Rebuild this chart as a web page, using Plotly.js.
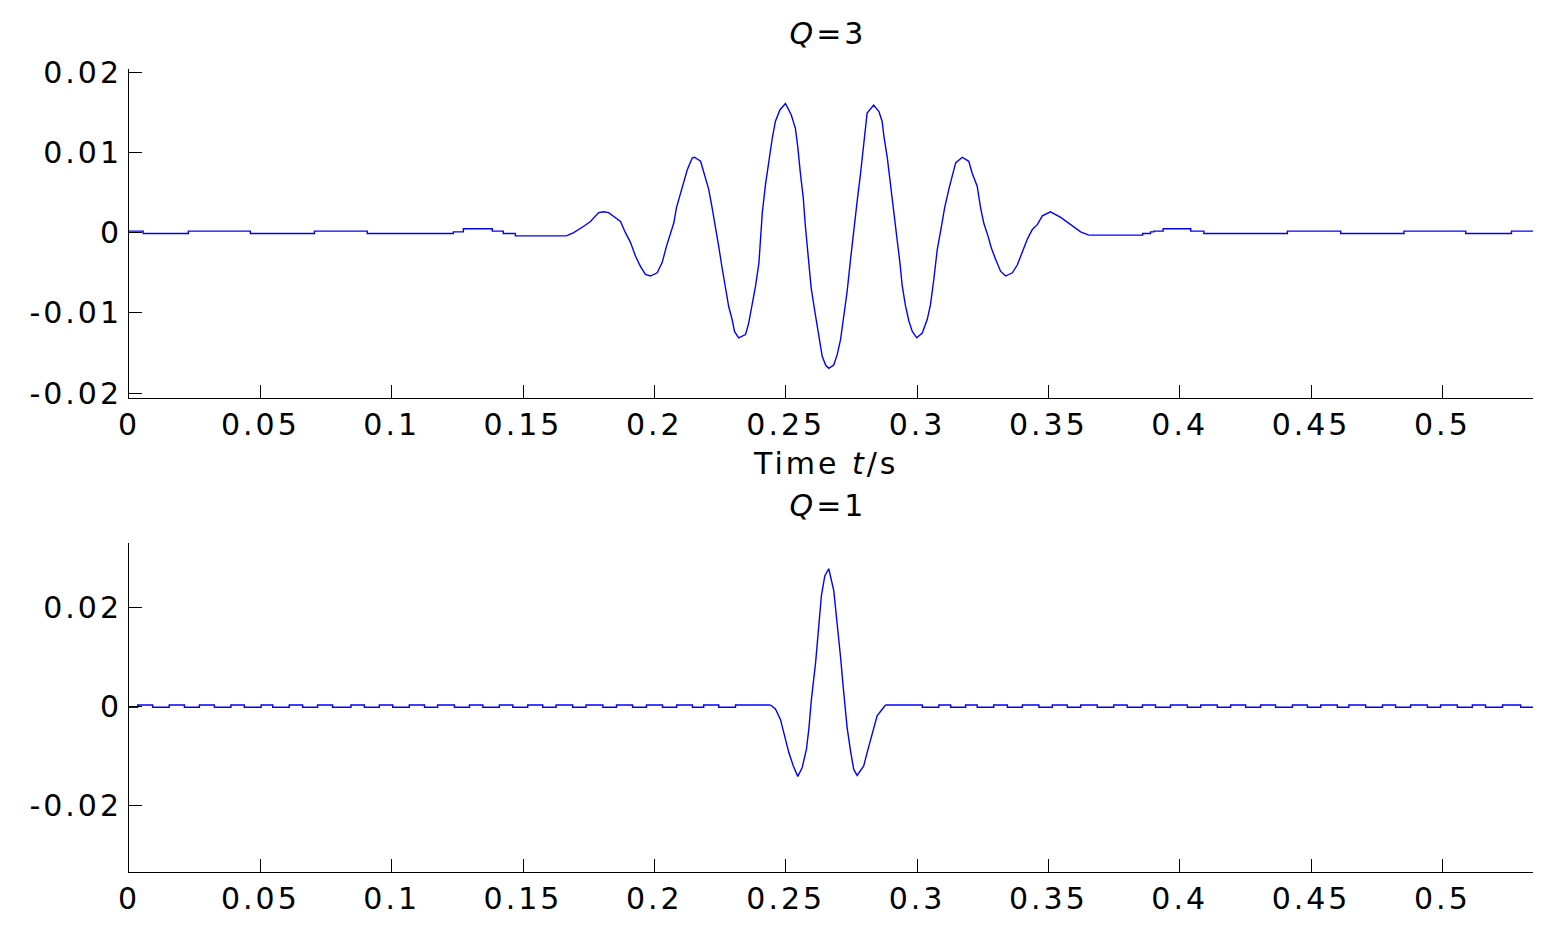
<!DOCTYPE html>
<html>
<head>
<meta charset="utf-8">
<script src="https://cdn.plot.ly/plotly-3.0.1.min.js"></script>
<style>
html,body{margin:0;padding:0;background:#fff;}
#chart{width:1558px;height:928px;}
#chart text{letter-spacing:3px;}
</style>
</head>
<body>
<div id="chart"></div>
<script>
// ---------- data ----------
const xTickVals = [0, 0.05, 0.1, 0.15, 0.2, 0.25, 0.3, 0.35, 0.4, 0.45, 0.5];
const xTickText = ['0', '0.05', '0.1', '0.15', '0.2', '0.25', '0.3', '0.35', '0.4', '0.45', '0.5'];
const yTopTickVals = [-0.02, -0.01, 0, 0.01, 0.02];
const yTopTickText = ['-0.02', '-0.01', '0', '0.01', '0.02'];
const yBotTickVals = [-0.02, 0, 0.02];
const yBotTickText = ['-0.02', '0', '0.02'];

// Q=3 : baseline before the wavelet (step levels)
const tTopLeft = [0, 0.0054, 0.0226, 0.0462, 0.0706, 0.0907, 0.1235, 0.1273, 0.1383, 0.1425, 0.1471, 0.1665];
const vTopLeft = [0.0002, -0.0001, 0.0002, -0.0001, 0.0002, -0.0001, 0.0001, 0.0005, 0.0002, -0.0001, -0.0004, -0.0004];
// Q=3 : wavelet
const tTop = [0.1665,0.1693,0.1731,0.1757,0.1788,0.1807,0.1826,0.1871,0.1890,0.1909,0.1928,0.1947,0.1966,0.1985,0.2011,0.2030,0.2046,0.2059,0.2074,0.2084,0.2097,0.2110,0.2125,0.2144,0.2153,0.2176,0.2195,0.2207,0.2220,0.2233,0.2245,0.2258,0.2271,0.2283,0.2296,0.2305,0.2321,0.2347,0.2359,0.2372,0.2385,0.2398,0.2404,0.2411,0.2423,0.2436,0.2449,0.2461,0.2478,0.2499,0.2521,0.2537,0.2546,0.2556,0.2567,0.2575,0.2586,0.2597,0.2613,0.2626,0.2639,0.2652,0.2664,0.2683,0.2696,0.2709,0.2721,0.2734,0.2747,0.2759,0.2772,0.2785,0.2795,0.2804,0.2810,0.2835,0.2855,0.2867,0.2874,0.2887,0.2899,0.2909,0.2922,0.2935,0.2944,0.2956,0.2969,0.2982,0.2999,0.3020,0.3039,0.3051,0.3064,0.3077,0.3092,0.3105,0.3121,0.3134,0.3147,0.3172,0.3197,0.3210,0.3229,0.3242,0.3254,0.3270,0.3283,0.3299,0.3318,0.3337,0.3363,0.3382,0.3401,0.3420,0.3439,0.3458,0.3477,0.3508,0.3547,0.3585,0.3623,0.3654];
const vTop = [-0.0004,0.0000,0.0008,0.0014,0.0025,0.0026,0.0025,0.0014,0.0000,-0.0012,-0.0029,-0.0042,-0.0052,-0.0054,-0.0050,-0.0037,-0.0017,-0.0002,0.0012,0.0031,0.0047,0.0062,0.0078,0.0093,0.0094,0.0089,0.0068,0.0054,0.0031,0.0008,-0.0017,-0.0044,-0.0069,-0.0092,-0.0108,-0.0123,-0.0131,-0.0127,-0.0113,-0.0092,-0.0067,-0.0038,-0.0008,0.0025,0.0060,0.0091,0.0118,0.0139,0.0153,0.0161,0.0147,0.0130,0.0107,0.0074,0.0043,0.0008,-0.0032,-0.0069,-0.0102,-0.0129,-0.0154,-0.0165,-0.0169,-0.0165,-0.0152,-0.0133,-0.0106,-0.0073,-0.0033,0.0004,0.0039,0.0074,0.0105,0.0132,0.0149,0.0159,0.0151,0.0139,0.0120,0.0093,0.0062,0.0031,-0.0004,-0.0038,-0.0067,-0.0091,-0.0110,-0.0123,-0.0131,-0.0125,-0.0108,-0.0090,-0.0058,-0.0021,0.0006,0.0031,0.0054,0.0072,0.0087,0.0094,0.0089,0.0074,0.0058,0.0031,0.0012,-0.0004,-0.0019,-0.0033,-0.0048,-0.0054,-0.0050,-0.0040,-0.0025,-0.0008,0.0004,0.0010,0.0021,0.0026,0.0019,0.0010,0.0001,-0.0003];
// Q=3 : baseline after the wavelet (step levels)
const tTopRight = [0.3654, 0.3859, 0.3889, 0.3901, 0.3937, 0.4042, 0.4092, 0.4410, 0.4613, 0.4854, 0.5089, 0.5263, 0.5345];
const vTopRight = [-0.0003, -0.0001, 0.0001, 0.0002, 0.0005, 0.0002, -0.0001, 0.0002, -0.0001, 0.0002, -0.0001, 0.0002, 0.0002];

// Q=1 : ripple before the wavelet (step levels)
const tBotLeft = [0,0.0033,0.0090,0.0153,0.0211,0.0268,0.0325,0.0388,0.0439,0.0503,0.0547,0.0610,0.0661,0.0718,0.0775,0.0845,0.0896,0.0953,0.1004,0.1067,0.1125,0.1175,0.1239,0.1296,0.1347,0.1410,0.1461,0.1518,0.1575,0.1626,0.1689,0.1740,0.1804,0.1856,0.1917,0.1970,0.2031,0.2085,0.2145,0.2188,0.2245,0.2309,0.2442];
const vBotLeft = [-0.00015,0.0003,-0.00015,0.0003,-0.00015,0.0003,-0.00015,0.0003,-0.00015,0.0003,-0.00015,0.0003,-0.00015,0.0003,-0.00015,0.0003,-0.00015,0.0003,-0.00015,0.0003,-0.00015,0.0003,-0.00015,0.0003,-0.00015,0.0003,-0.00015,0.0003,-0.00015,0.0003,-0.00015,0.0003,-0.00015,0.0003,-0.00015,0.0003,-0.00015,0.0003,-0.00015,0.0003,-0.00015,0.0003,0.0003];
// Q=1 : wavelet
const tBot = [0.2442,0.2461,0.2480,0.2499,0.2512,0.2529,0.2546,0.2563,0.2579,0.2588,0.2598,0.2614,0.2626,0.2636,0.2649,0.2664,0.2683,0.2696,0.2709,0.2721,0.2734,0.2747,0.2759,0.2772,0.2797,0.2810,0.2829,0.2848,0.2880];
const vBot = [0.0003,-0.0005,-0.0026,-0.0066,-0.0093,-0.0120,-0.0141,-0.0123,-0.0086,-0.0046,0.0015,0.0089,0.0160,0.0224,0.0264,0.0278,0.0234,0.0173,0.0099,0.0028,-0.0043,-0.0090,-0.0127,-0.0139,-0.0120,-0.0093,-0.0053,-0.0019,0.0003];
// Q=1 : ripple after the wavelet (step levels)
const tBotRight = [0.2880,0.3020,0.3083,0.3128,0.3185,0.3229,0.3292,0.3344,0.3401,0.3464,0.3515,0.3572,0.3623,0.3686,0.3749,0.3800,0.3858,0.3908,0.3965,0.4029,0.4080,0.4143,0.4194,0.4251,0.4308,0.4365,0.4429,0.4486,0.4537,0.4600,0.4644,0.4708,0.4772,0.4822,0.4879,0.4943,0.4993,0.5057,0.5114,0.5164,0.5229,0.5298,0.5348];
const vBotRight = [0.0003,-0.00015,0.0003,-0.00015,0.0003,-0.00015,0.0003,-0.00015,0.0003,-0.00015,0.0003,-0.00015,0.0003,-0.00015,0.0003,-0.00015,0.0003,-0.00015,0.0003,-0.00015,0.0003,-0.00015,0.0003,-0.00015,0.0003,-0.00015,0.0003,-0.00015,0.0003,-0.00015,0.0003,-0.00015,0.0003,-0.00015,0.0003,-0.00015,0.0003,-0.00015,0.0003,-0.00015,0.0003,-0.00015,-0.00015];

const titleTop = '<i>Q</i>=3';
const titleBot = '<i>Q</i>=1';
const xTitle = 'Time <i>t</i>/s';

// ---------- chart ----------
const BLUE = '#0000ff';
function tr(x, y, xa, ya, shape) {
  return {x: x, y: y, xaxis: xa, yaxis: ya, type: 'scatter', mode: 'lines',
          line: {color: BLUE, width: 1.4, shape: shape}, hoverinfo: 'skip', showlegend: false};
}
const data = [
  tr(tTopLeft, vTopLeft, 'x', 'y', 'hv'),
  tr(tTop, vTop, 'x', 'y', 'linear'),
  tr(tTopRight, vTopRight, 'x', 'y', 'hv'),
  tr(tBotLeft, vBotLeft, 'x2', 'y2', 'hv'),
  tr(tBot, vBot, 'x2', 'y2', 'linear'),
  tr(tBotRight, vBotRight, 'x2', 'y2', 'hv')
];

const FONT = {family: 'DejaVu Sans, Arial, sans-serif', size: 30, color: '#000'};
function xax(anchor) {
  return {anchor: anchor, domain: [0, 1], range: [0, 0.5345], tickmode: 'array',
          tickvals: xTickVals, ticktext: xTickText, ticks: 'inside', ticklen: 13,
          tickwidth: 1, tickcolor: '#000', showline: true, linecolor: '#000', linewidth: 1,
          showgrid: false, zeroline: false, mirror: false, tickfont: FONT, fixedrange: true};
}
function yax(anchor, domain, range, vals, text) {
  return {anchor: anchor, domain: domain, range: range, tickmode: 'array',
          tickvals: vals, ticktext: text, ticks: 'inside', ticklen: 13,
          tickwidth: 1, tickcolor: '#000', showline: true, linecolor: '#000', linewidth: 1,
          showgrid: false, zeroline: false, mirror: false, tickfont: FONT, fixedrange: true};
}

const layout = {
  width: 1558, height: 928,
  paper_bgcolor: '#fff', plot_bgcolor: '#fff',
  margin: {l: 129, r: 25, t: 69, b: 56, pad: 0},
  showlegend: false,
  font: FONT,
  xaxis: xax('y'),
  yaxis: yax('x', [0.5903, 1], [-0.0206, 0.0204], yTopTickVals, yTopTickText),
  xaxis2: xax('y2'),
  yaxis2: yax('x2', [0, 0.4097], [-0.0334, 0.033], yBotTickVals, yBotTickText),
  annotations: [
    {text: titleTop, xref: 'paper', yref: 'paper', x: 0.498, y: 1.0448, xanchor: 'center', yanchor: 'middle', showarrow: false, font: FONT},
    {text: xTitle, xref: 'paper', yref: 'paper', x: 0.496, y: 0.5093, xanchor: 'center', yanchor: 'middle', showarrow: false, font: FONT},
    {text: titleBot, xref: 'paper', yref: 'paper', x: 0.498, y: 0.4558, xanchor: 'center', yanchor: 'middle', showarrow: false, font: FONT}
  ]
};

Plotly.newPlot('chart', data, layout, {staticPlot: true, displayModeBar: false});
</script>
</body>
</html>
